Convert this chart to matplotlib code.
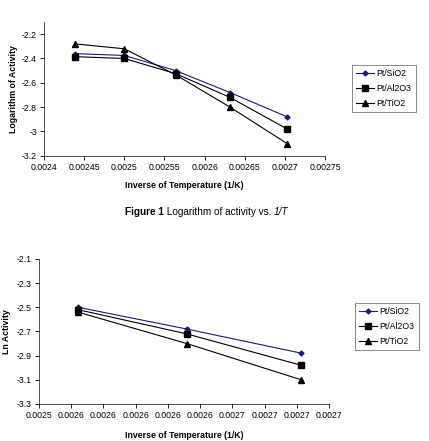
import numpy as np
import matplotlib
matplotlib.use('Agg')
import matplotlib.pyplot as plt
from matplotlib.ticker import FixedLocator, FormatStrFormatter

plt.rcParams['font.family'] = ['Liberation Sans', 'DejaVu Sans']
plt.rcParams['axes.unicode_minus'] = False

# temperatures 410..370 K as inverse values
inv_T = [1 / 410, 1 / 400, 1 / 390, 1 / 380, 1 / 370]
sio2 = [-2.36, -2.375, -2.50, -2.68, -2.88]
al2o3 = [-2.385, -2.40, -2.525, -2.72, -2.98]
tio2 = [-2.28, -2.32, -2.535, -2.80, -3.10]

inv_T2 = inv_T[2:]
sio2_2 = [-2.50, -2.68, -2.88]
al2o3_2 = [-2.52, -2.72, -2.98]
tio2_2 = [-2.54, -2.80, -3.10]

labels = ['Pt/SiO2', 'Pt/Al2O3', 'Pt/TiO2']

fs = 6.3
navy = '#1a1a80'


def style(ax):
    for s in ['top', 'right']:
        ax.spines[s].set_visible(False)
    for s in ['left', 'bottom']:
        ax.spines[s].set_linewidth(0.6)
        ax.spines[s].set_color('#333333')
    ax.tick_params(direction='out', length=3, width=0.6, labelsize=fs, pad=2)


def plot_series(ax, x, ys):
    ax.plot(x, ys[0], color=navy, marker='D', ms=2.5, lw=0.8, label=labels[0])
    ax.plot(x, ys[1], color='black', marker='s', ms=4, lw=0.8, label=labels[1])
    ax.plot(x, ys[2], color='black', marker='^', ms=4, lw=0.8, label=labels[2])


def legend(ax, bbox):
    lg = ax.legend(loc='upper left', bbox_to_anchor=bbox, bbox_transform=fig.transFigure,
                   fontsize=fs, frameon=True, fancybox=False, handlelength=2.0,
                   handletextpad=0.3, borderpad=0.5, labelspacing=0.65, borderaxespad=0)
    lg.get_frame().set_edgecolor('#555555')
    lg.get_frame().set_linewidth(0.6)


fig = plt.figure(figsize=(4.29, 4.41), dpi=100)

# %% top chart
ax1 = fig.add_axes([0.1026, 0.647, 0.655, 0.303])
plot_series(ax1, inv_T, [sio2, al2o3, tio2])
ax1.set_xlim(0.0024, 0.00275)
ax1.set_ylim(-3.2, -2.1)
ax1.xaxis.set_major_locator(FixedLocator(np.arange(0.0024, 0.002751, 0.00005)))
ax1.set_xticklabels(['0.0024', '0.00245', '0.0025', '0.00255', '0.0026',
                     '0.00265', '0.0027', '0.00275'])
ax1.yaxis.set_major_locator(FixedLocator(np.arange(-3.2, -2.19, 0.2)))
ax1.set_yticklabels(['-3.2', '-3', '-2.8', '-2.6', '-2.4', '-2.2'])
style(ax1)
ax1.set_xlabel('Inverse of Temperature (1/K)', fontsize=fs, fontweight='bold', labelpad=7)
ax1.set_ylabel('Logarithm of Activity', fontsize=fs, fontweight='bold', labelpad=3)
legend(ax1, (352 / 429, 1 - 65 / 441))

# caption: bold "Figure 1", plain text, italic 1/T
t1 = fig.text(125 / 429, 1 - 215 / 441, 'Figure 1', fontsize=7.2, fontweight='bold')
a2 = ax1.annotate(' Logarithm of activity vs. ', xy=(1, 0), xycoords=t1, fontsize=7.2,
                  va='bottom', annotation_clip=False)
ax1.annotate('1/T', xy=(1, 0), xycoords=a2, fontsize=7.2, style='italic',
             va='bottom', annotation_clip=False)

# %% bottom chart
ax2 = fig.add_axes([0.091, 0.084, 0.676, 0.329])
plot_series(ax2, inv_T2, [sio2_2, al2o3_2, tio2_2])
ax2.set_xlim(0.00254, 0.00272)
ax2.set_ylim(-3.3, -2.1)
ax2.xaxis.set_major_locator(FixedLocator(np.arange(0.00254, 0.0027201, 0.00002)))
ax2.xaxis.set_major_formatter(FormatStrFormatter('%.4f'))
ax2.yaxis.set_major_locator(FixedLocator(np.arange(-3.3, -2.09, 0.2)))
ax2.yaxis.set_major_formatter(FormatStrFormatter('%.1f'))
style(ax2)
ax2.set_xlabel('Inverse of Temperature (1/K)', fontsize=fs, fontweight='bold', labelpad=8)
ax2.set_ylabel('Ln Activity', fontsize=fs, fontweight='bold', labelpad=4)
legend(ax2, (355 / 429, 1 - 303 / 441))

fig.savefig('out.png', dpi=100)
